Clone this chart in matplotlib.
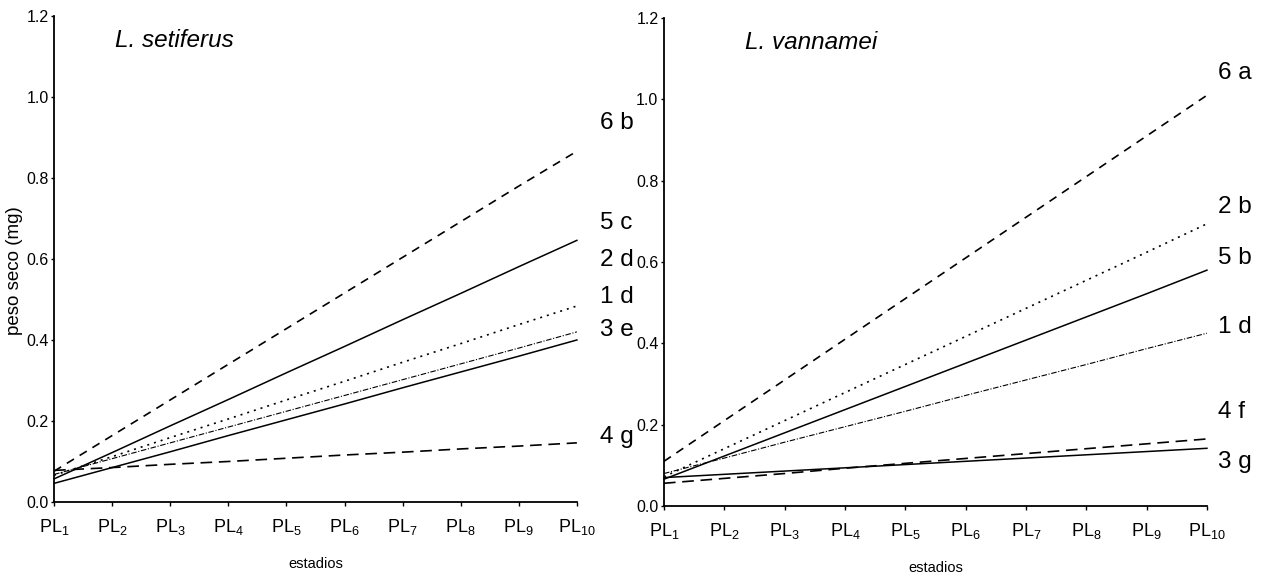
import numpy as np
import matplotlib
matplotlib.use("Agg")
import matplotlib.pyplot as plt

# ---- data ----
stages = [r"PL$_{%d}$" % i for i in range(1, 11)]

# L. setiferus
set_labels = ["6 b", "5 c", "2 d", "1 d", "3 e", "4 g"]
set_6 = [0.076, 0.164, 0.252, 0.340, 0.428, 0.516, 0.604, 0.692, 0.780, 0.866]
set_5 = [0.057, 0.122, 0.188, 0.253, 0.319, 0.384, 0.450, 0.515, 0.581, 0.646]
set_2 = [0.066, 0.112, 0.159, 0.205, 0.252, 0.298, 0.345, 0.391, 0.438, 0.484]
set_1 = [0.068, 0.107, 0.146, 0.185, 0.224, 0.263, 0.302, 0.341, 0.380, 0.420]
set_3 = [0.046, 0.085, 0.124, 0.164, 0.203, 0.242, 0.282, 0.321, 0.360, 0.400]
set_4 = [0.078, 0.085, 0.093, 0.100, 0.108, 0.116, 0.123, 0.131, 0.138, 0.146]

# L. vannamei
van_labels = ["6 a", "2 b", "5 b", "1 d", "4 f", "3 g"]
van_6 = [0.110, 0.210, 0.310, 0.410, 0.510, 0.610, 0.710, 0.810, 0.910, 1.010]
van_2 = [0.072, 0.141, 0.210, 0.279, 0.348, 0.417, 0.486, 0.555, 0.624, 0.694]
van_5 = [0.066, 0.123, 0.180, 0.237, 0.294, 0.351, 0.408, 0.465, 0.522, 0.580]
van_1 = [0.080, 0.118, 0.157, 0.195, 0.233, 0.272, 0.310, 0.348, 0.387, 0.425]
van_4 = [0.056, 0.068, 0.080, 0.093, 0.105, 0.117, 0.129, 0.141, 0.153, 0.165]
van_3 = [0.070, 0.078, 0.086, 0.094, 0.102, 0.110, 0.118, 0.126, 0.134, 0.142]

plt.rcParams["font.family"] = ["Liberation Sans", "DejaVu Sans"]
plt.rcParams["mathtext.fontset"] = "custom"
plt.rcParams["mathtext.rm"] = "Liberation Sans"

styles = {
    "6": dict(ls=(0, (5, 4)), lw=1.2),
    "5": dict(ls="-", lw=1.1),
    "2": dict(ls=(0, (1.2, 3)), lw=1.2),
    "1": dict(ls=(0, (5, 1.5, 1, 1.5)), lw=0.8),
    "3": dict(ls="-", lw=1.1),
    "4": dict(ls=(0, (7, 4)), lw=1.2),
}

fig = plt.figure(figsize=(12.69, 5.81), dpi=100)
ax1 = fig.add_axes([0.0426, 0.136, 0.412, 0.8365])
ax2 = fig.add_axes([0.5232, 0.129, 0.4279, 0.840])

x = np.arange(1, 11)


def setup(ax, title, tx):
    ax.set_xlim(1, 10)
    ax.set_ylim(0, 1.2)
    for s in ("top", "right"):
        ax.spines[s].set_visible(False)
    ax.spines["left"].set_linewidth(1.3)
    ax.spines["bottom"].set_linewidth(1.3)
    ax.set_xticks(x)
    ax.set_xticklabels(stages, fontsize=13)
    ax.set_yticks(np.arange(0, 1.21, 0.2))
    ax.set_yticklabels(["0.0", "0.2", "0.4", "0.6", "0.8", "1.0", "1.2"], fontsize=11.5)
    ax.tick_params(axis="x", length=3, width=1, pad=8)
    ax.tick_params(axis="y", length=2, width=1, pad=2)
    ax.set_xlabel("estadios", fontsize=10.5, labelpad=14)
    ax.text(tx, 0.95, title, transform=ax.transAxes, fontsize=17.5,
            style="italic", va="center", ha="left")


setup(ax1, "L. setiferus", 0.117)
ax1.set_ylabel("peso seco (mg)", fontsize=13.5)
ax1.yaxis.set_label_coords(-0.06, 0.477)
for key, y in zip(["6", "5", "2", "1", "3", "4"],
                  [set_6, set_5, set_2, set_1, set_3, set_4]):
    ax1.plot(x, y, color="black", clip_on=False, **styles[key])

set_lab_y = [0.936, 0.69, 0.597, 0.506, 0.424, 0.16]
for lab, ly in zip(set_labels, set_lab_y):
    ax1.text(10.4, ly, lab, fontsize=17.5, va="center", ha="left")

setup(ax2, "L. vannamei", 0.15)
for key, y in zip(["6", "2", "5", "1", "4", "3"],
                  [van_6, van_2, van_5, van_1, van_4, van_3]):
    ax2.plot(x, y, color="black", clip_on=False, **styles[key])

van_lab_y = [1.064, 0.735, 0.61, 0.44, 0.231, 0.108]
for lab, ly in zip(van_labels, van_lab_y):
    ax2.text(10.19, ly, lab, fontsize=17.5, va="center", ha="left")

fig.savefig("out.png", dpi=100)
